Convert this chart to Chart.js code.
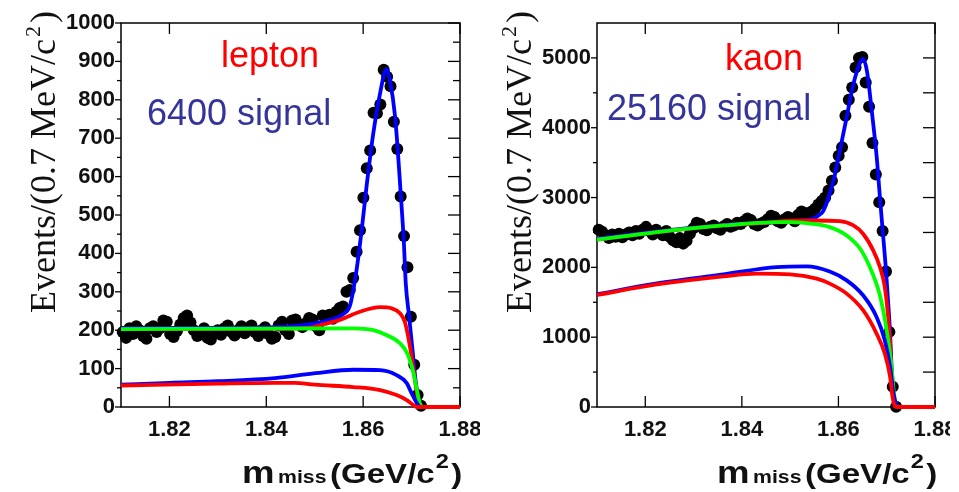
<!DOCTYPE html>
<html><head><meta charset="utf-8">
<script src="https://cdn.jsdelivr.net/npm/chart.js@4/dist/chart.umd.min.js"></script>
<style>
html,body{margin:0;padding:0;background:#fff;width:959px;height:492px;overflow:hidden;}
#wl{position:absolute;left:0;top:0;width:480px;height:492px;}
#wr{position:absolute;left:480px;top:0;width:470px;height:492px;}
canvas{display:block;}
</style></head><body>
<div id="wl"><canvas id="cl" width="480" height="492"></canvas></div>
<div id="wr"><canvas id="cr" width="470" height="492"></canvas></div>
<script>
// ---- bin centres (0.7 MeV bins) ----
const binCenters = [1.81035,1.81105,1.81175,1.81245,1.81315,1.81385,1.81455,1.81525,1.81595,1.81665,
1.81735,1.81805,1.81875,1.81945,1.82015,1.82085,1.82155,1.82225,1.82295,1.82365,
1.82435,1.82505,1.82575,1.82645,1.82715,1.82785,1.82855,1.82925,1.82995,1.83065,
1.83135,1.83205,1.83275,1.83345,1.83415,1.83485,1.83555,1.83625,1.83695,1.83765,
1.83835,1.83905,1.83975,1.84045,1.84115,1.84185,1.84255,1.84325,1.84395,1.84465,
1.84535,1.84605,1.84675,1.84745,1.84815,1.84885,1.84955,1.85025,1.85095,1.85165,
1.85235,1.85305,1.85375,1.85445,1.85515,1.85585,1.85655,1.85725,1.85795,1.85865,
1.85935,1.86005,1.86075,1.86145,1.86215,1.86285,1.86355,1.86425,1.86495,1.86565,
1.86635,1.86705,1.86775,1.86845,1.86915,1.86985,1.87055,1.87125,1.87195];

// ---- lepton panel ----
const lepCounts = [195,180,205,190,210,200,185,178,205,210,
195,205,225,222,190,182,198,215,232,238,
220,200,185,190,205,180,176,192,200,188,
205,212,196,186,200,210,192,205,212,195,
185,200,208,190,178,182,212,222,200,190,
225,228,215,208,218,232,228,210,200,238,
228,240,230,248,258,262,300,305,336,404,
460,545,622,668,766,765,788,878,860,835,
743,672,548,445,364,235,110,31,3];
const lepTotX = [1.810,1.830,1.8418,1.8501,1.8542,1.8559,1.8573,1.8585,1.8597,1.8607,1.8621,1.8635,1.8648,1.8655,1.8666,1.8678,1.8684,1.8688,1.8695,1.8702,1.8709,1.8716,1.8722,1.8730,1.880];
const lepTotY = [206,206,208,218,231,242,265,345,461,574,713,817,880,852,756,548,430,322,235,148,62,10,0,0,0];
const lepRedX = [1.810,1.845,1.8501,1.8511,1.8552,1.8593,1.8635,1.8659,1.8676,1.8686,1.8693,1.8700,1.8706,1.8711,1.8717,1.8724,1.8730,1.880];
const lepRedY = [203,204,209,213,227,248,260,257,244,222,183,131,79,36,5,0,0,0];
const lepGrnX = [1.810,1.840,1.858,1.8621,1.8649,1.8676,1.8691,1.8704,1.8711,1.8717,1.8724,1.8730,1.880];
const lepGrnY = [203,204,205,200,187,166,140,88,44,10,0,0,0];
const lepBluLoX = [1.810,1.820,1.830,1.8418,1.8501,1.858,1.8635,1.8669,1.8690,1.8700,1.8711,1.8718,1.8730,1.880];
const lepBluLoY = [58,63,67,75,88,97,96,83,62,36,10,0,0,0];
const lepRedLoX = [1.810,1.830,1.8418,1.8458,1.850,1.858,1.8635,1.8669,1.8690,1.8704,1.8711,1.8730,1.880];
const lepRedLoY = [56,61,63,63,58,52,44,31,18,5,0,0,0];

// ---- kaon panel ----
const kaoCounts = [2540,2510,2460,2420,2470,2440,2480,2430,2470,2500,
2460,2520,2480,2540,2580,2520,2470,2540,2500,2460,
2520,2440,2390,2360,2420,2340,2380,2480,2560,2640,
2620,2550,2530,2580,2600,2560,2540,2590,2620,2580,
2600,2640,2620,2660,2700,2680,2620,2600,2630,2650,
2690,2740,2720,2660,2640,2690,2720,2700,2660,2750,
2800,2780,2720,2800,2840,2900,2950,3000,3100,3240,
3430,3600,3720,4171,4400,4576,4862,5000,5014,4648,
4300,3780,3330,2933,2520,1940,1076,290,5];
const kaoTotX = [1.810,1.8224,1.8362,1.8500,1.8548,1.8562,1.8569,1.8582,1.8593,1.8603,1.8617,1.8631,1.8645,1.8651,1.8659,1.8669,1.8679,1.8686,1.8692,1.8698,1.8703,1.8707,1.8710,1.8714,1.8717,1.8721,1.8730,1.880];
const kaoTotY = [2410,2515,2610,2660,2700,2760,2814,3052,3338,3671,4148,4624,4933,4985,4814,4243,3600,3000,2500,2004,1500,1052,576,195,50,0,0,0];
const kaoRedX = [1.810,1.8224,1.8362,1.846,1.8479,1.8548,1.8603,1.8631,1.8651,1.8672,1.8686,1.8696,1.8703,1.8707,1.8710,1.8714,1.8717,1.8724,1.8730,1.880];
const kaoRedY = [2396,2505,2600,2645,2660,2671,2662,2600,2481,2243,2004,1719,1290,910,481,147,5,0,0,0];
const kaoGrnX = [1.810,1.8224,1.8362,1.8479,1.8500,1.8548,1.8582,1.8617,1.8645,1.8665,1.8683,1.8694,1.8703,1.8710,1.8715,1.8719,1.8726,1.880];
const kaoGrnY = [2396,2505,2600,2647,2647,2624,2576,2457,2267,2004,1671,1338,957,576,195,52,0,0];
const kaoBluLoX = [1.810,1.8224,1.8362,1.8472,1.8534,1.8582,1.8617,1.8651,1.8679,1.8696,1.8707,1.8714,1.8719,1.8726,1.880];
const kaoBluLoY = [1615,1770,1900,2004,2014,1940,1814,1600,1290,957,576,195,52,0,0];
const kaoRedLoX = [1.810,1.8224,1.8362,1.8431,1.8500,1.8555,1.8582,1.8617,1.8651,1.8679,1.8696,1.8707,1.8712,1.8717,1.8726,1.880];
const kaoRedLoY = [1605,1755,1871,1910,1900,1838,1767,1624,1386,1052,767,433,147,20,0,0];

// ---- axis ticks ----
const xTickVals = [1.82,1.84,1.86,1.88];
const lepYTicks = [0,100,200,300,400,500,600,700,800,900,1000];
const lepYMinor = [50,150,250,350,450,550,650,750,850,950];
const kaoYTicks = [0,1000,2000,3000,4000,5000];
const kaoYMinor = [500,1500,2500,3500,4500];

const pts = (xs, ys) => xs.map((x, i) => ({x, y: ys[i]}));

function curve(xs, ys, color, order) {
  return {data: pts(xs, ys), showLine: true, borderColor: color, borderWidth: 3.8,
    pointRadius: 0, fill: false, cubicInterpolationMode: 'monotone', clip: false, order};
}

function makeChart(id, cfg) {
  const ctx = document.getElementById(id).getContext('2d');
  const tickFont = {family: '"Liberation Sans", Arial, sans-serif', weight: 'bold'};
  const deco = {
    id: 'deco',
    beforeDatasetsDraw(chart) {
      const c = chart.ctx, a = chart.chartArea, xs = chart.scales.x, ys = chart.scales.y;
      c.save();
      c.strokeStyle = '#000'; c.lineWidth = 1.5;
      c.strokeRect(a.left, a.top, a.right - a.left, a.bottom - a.top);
      c.lineWidth = 1.3;
      const ln = (x1, y1, x2, y2) => { c.beginPath(); c.moveTo(x1, y1); c.lineTo(x2, y2); c.stroke(); };
      xTickVals.forEach(v => { const p = xs.getPixelForValue(v);
        ln(p, a.bottom, p, a.bottom - 11); ln(p, a.top, p, a.top + 11); });
      cfg.yTicks.forEach(v => { const p = ys.getPixelForValue(v);
        ln(a.left - 6, p, a.left, p); ln(a.right, p, a.right - 12, p); });
      cfg.yMinor.forEach(v => { const p = ys.getPixelForValue(v);
        ln(a.left - 4, p, a.left, p); ln(a.right, p, a.right - cfg.minorLen, p); });
      c.restore();
    },
    afterDraw(chart) {
      const c = chart.ctx, a = chart.chartArea;
      c.save();
      c.fillStyle = '#111'; c.textAlign = 'left'; c.textBaseline = 'alphabetic';
      // y title
      c.save();
      c.translate(a.left - 66, 313);
      c.rotate(-Math.PI / 2);
      c.font = '36px "Liberation Serif", "Times New Roman", serif';
      const s1 = 'Events/(0.7 MeV/c';
      c.fillText(s1, 0, 0);
      let w = c.measureText(s1).width + 2;
      c.font = '22px "Liberation Serif", "Times New Roman", serif';
      c.fillText('2', w, -15);
      w += c.measureText('2').width + 3;
      c.font = '36px "Liberation Serif", "Times New Roman", serif';
      c.fillText(')', w, 0);
      c.restore();
      // x title
      c.save();
      c.translate(a.right - 218, 483);
      c.scale(1.18, 1);
      const sf = '"Liberation Sans", Arial, sans-serif';
      let x = 0;
      c.font = 'bold 31px ' + sf; c.fillText('m', x, 0); x += c.measureText('m').width + 3;
      c.font = 'bold 18px ' + sf; c.fillText('miss', x, 0); x += c.measureText('miss').width + 3;
      c.font = 'bold 28px ' + sf; c.fillText('(GeV/c', x, 0); x += c.measureText('(GeV/c').width + 1;
      c.font = 'bold 20px ' + sf; c.fillText('2', x, -15); x += c.measureText('2').width + 2;
      c.font = 'bold 28px ' + sf; c.fillText(')', x, 0);
      c.restore();
      // annotations
      c.font = '36px "Liberation Sans", Arial, sans-serif';
      c.fillStyle = '#ff0000';
      c.fillText(cfg.label, cfg.labelPos[0], cfg.labelPos[1]);
      c.fillStyle = '#34349a';
      c.fillText(cfg.signal, cfg.signalPos[0], cfg.signalPos[1]);
      c.restore();
    }
  };
  return new Chart(ctx, {
    type: 'scatter',
    data: {datasets: [
      {data: pts(binCenters, cfg.counts), showLine: false, pointRadius: 6,
       pointBackgroundColor: '#000', pointBorderWidth: 0, clip: false, order: 10},
      curve(cfg.tot[0], cfg.tot[1], '#0000ff', 5),
      curve(cfg.red[0], cfg.red[1], '#ff0000', 4),
      curve(cfg.grn[0], cfg.grn[1], '#00ff00', 3),
      curve(cfg.bluLo[0], cfg.bluLo[1], '#0000ff', 2),
      curve(cfg.redLo[0], cfg.redLo[1], '#ff0000', 1)
    ]},
    options: {
      responsive: false, animation: false, devicePixelRatio: 1,
      layout: {padding: {left: 0, top: 23, right: cfg.padRight, bottom: 0}},
      plugins: {legend: {display: false}, tooltip: {enabled: false}},
      scales: {
        x: {type: 'linear', min: 1.81, max: 1.88,
          grid: {display: false, drawTicks: false}, border: {display: false},
          afterBuildTicks: s => { s.ticks = xTickVals.map(v => ({value: v})); },
          ticks: {autoSkip: false, maxRotation: 0, padding: 10, color: '#111',
            font: Object.assign({size: 22}, tickFont), callback: v => Number(v).toFixed(2)},
          afterFit: s => { s.height = 85; s.paddingLeft = 0; s.paddingRight = 0; }},
        y: {type: 'linear', min: 0, max: cfg.yMax,
          grid: {display: false, drawTicks: false}, border: {display: false},
          afterBuildTicks: s => { s.ticks = cfg.yTicks.map(v => ({value: v})); },
          ticks: {autoSkip: false, padding: 6, color: '#111',
            font: Object.assign({size: 22}, tickFont), callback: v => String(v)},
          afterFit: s => { s.width = cfg.axisW; s.paddingTop = 0; s.paddingBottom = 0; }}
      }
    },
    plugins: [deco]
  });
}

makeChart('cl', {
  counts: lepCounts,
  tot: [lepTotX, lepTotY], red: [lepRedX, lepRedY], grn: [lepGrnX, lepGrnY],
  bluLo: [lepBluLoX, lepBluLoY], redLo: [lepRedLoX, lepRedLoY],
  yMax: 1000, yTicks: lepYTicks, yMinor: lepYMinor, minorLen: 7,
  axisW: 121, padRight: 20,
  label: 'lepton', labelPos: [221, 67], signal: '6400 signal', signalPos: [147, 125]
});
makeChart('cr', {
  counts: kaoCounts,
  tot: [kaoTotX, kaoTotY], red: [kaoRedX, kaoRedY], grn: [kaoGrnX, kaoGrnY],
  bluLo: [kaoBluLoX, kaoBluLoY], redLo: [kaoRedLoX, kaoRedLoY],
  yMax: 5500, yTicks: kaoYTicks, yMinor: kaoYMinor, minorLen: 12,
  axisW: 117, padRight: 15,
  label: 'kaon', labelPos: [245, 70], signal: '25160 signal', signalPos: [127, 120]
});
</script>
</body></html>
